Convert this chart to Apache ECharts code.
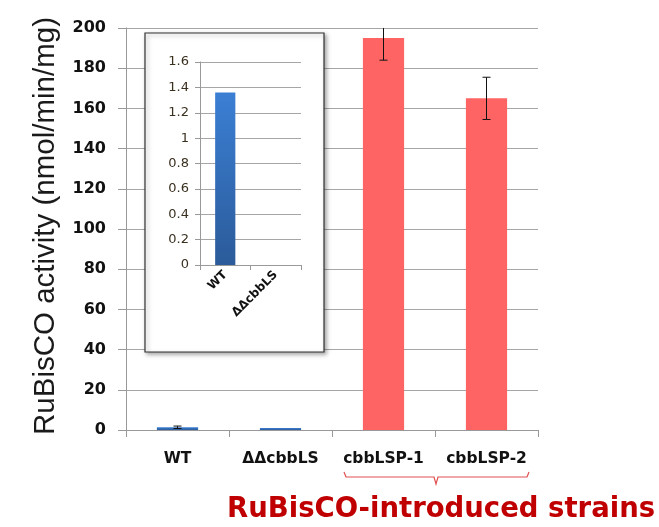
<!DOCTYPE html>
<html><head><meta charset="utf-8">
<script src="https://cdn.jsdelivr.net/npm/echarts@6/dist/echarts.min.js"></script>
<style>html,body{margin:0;padding:0;background:#fff}#c{width:659px;height:527px}</style>
</head><body><div id="c"></div>
<script>
const categories = ['WT', 'ΔΔcbbLS', 'cbbLSP-1', 'cbbLSP-2'];
const activity = [1.36, 0.02, 195, 165];
const errors = [0.6, 0, 11, 10.5];
const yTicks = [0, 20, 40, 60, 80, 100, 120, 140, 160, 180, 200];
const insetCategories = ['WT', 'ΔΔcbbLS'];
const insetActivity = [1.36, 0];
const insetTicks = [0, 0.2, 0.4, 0.6, 0.8, 1, 1.2, 1.4, 1.6];

const chart = echarts.init(document.getElementById('c'), null, {renderer: 'canvas'});
const blue = new echarts.graphic.LinearGradient(0, 0, 0, 1, [
  {offset: 0, color: '#3b7fd4'}, {offset: 1, color: '#2b5b9a'}]);
const red = '#ff6464';
const font = '"DejaVu Sans", sans-serif';

const option = {
  animation: false,
  backgroundColor: '#fff',
  grid: [
    {left: 126, top: 28, width: 412, height: 402},
    {left: 200, top: 62, width: 101, height: 203, z: 10}
  ],
  xAxis: [
    {type: 'category', data: categories, gridIndex: 0,
     axisLine: {lineStyle: {color: '#999', width: 1}},
     axisTick: {show: true, length: 7, lineStyle: {color: '#999'}},
     axisLabel: {color: '#111', fontWeight: 'bold', fontSize: 15.5, fontFamily: font, margin: 21, interval: 0, hideOverlap: false}},
    {type: 'category', data: insetCategories, gridIndex: 1, z: 10,
     axisLine: {lineStyle: {color: '#999'}},
     axisTick: {show: true, length: 5, lineStyle: {color: '#999'}},
     axisLabel: {color: '#111', fontWeight: 'bold', fontSize: 12, fontFamily: font, rotate: 45, margin: 8, interval: 0, hideOverlap: false}}
  ],
  yAxis: [
    {type: 'value', gridIndex: 0, min: 0, max: 200, interval: 20,
     axisLine: {show: true, lineStyle: {color: '#999'}},
     axisTick: {show: true, length: 8, lineStyle: {color: '#999'}},
     splitLine: {lineStyle: {color: '#a6a6a6'}},
     axisLabel: {color: '#111', fontWeight: 'bold', fontSize: 16, fontFamily: font, margin: 20,
       formatter: v => yTicks.includes(v) ? String(v) : ''}},
    {type: 'value', gridIndex: 1, min: 0, max: 1.6, interval: 0.2, z: 10,
     axisLine: {show: true, lineStyle: {color: '#999'}},
     axisTick: {show: true, length: 5, lineStyle: {color: '#999'}},
     splitLine: {lineStyle: {color: '#a6a6a6'}},
     axisLabel: {color: '#3a3020', fontSize: 13, fontFamily: font, margin: 11,
       formatter: v => { const t = insetTicks.find(x => Math.abs(x - v) < 1e-9); return t === undefined ? '' : String(t); }}}
  ],
  series: [
    {type: 'bar', xAxisIndex: 0, yAxisIndex: 0, barWidth: '40%', barMinHeight: 2,
     data: activity.map((v, i) => ({value: v, itemStyle: {color: i < 2 ? blue : red}}))},
    {type: 'custom', xAxisIndex: 0, yAxisIndex: 0, z: 3,
     data: activity.map((v, i) => [i, v, errors[i]]),
     renderItem: (params, api) => {
       const i = api.value(0), v = api.value(1), e = api.value(2);
       if (!e) return null;
       const top = api.coord([i, Math.min(v + e, 200)]);
       const bot = api.coord([i, v - e]);
       const hw = 4;
       const children = [{type: 'line', shape: {x1: top[0], y1: top[1], x2: bot[0], y2: bot[1]}, style: {stroke: '#111', lineWidth: 1}},
         {type: 'line', shape: {x1: bot[0] - hw, y1: bot[1], x2: bot[0] + hw, y2: bot[1]}, style: {stroke: '#111', lineWidth: 1}}];
       if (v + e <= 200) children.push({type: 'line', shape: {x1: top[0] - hw, y1: top[1], x2: top[0] + hw, y2: top[1]}, style: {stroke: '#111', lineWidth: 1}});
       return {type: 'group', children};
     }},
    {type: 'bar', xAxisIndex: 1, yAxisIndex: 1, barWidth: '40%', z: 12,
     data: insetActivity.map(v => ({value: v, itemStyle: {color: blue}}))}
  ],
  graphic: [
    {type: 'rect', z: 5, shape: {x: 145, y: 33, width: 179, height: 319},
     style: {fill: '#fff', stroke: '#333', lineWidth: 1.2, shadowBlur: 4, shadowOffsetX: 2, shadowOffsetY: 2, shadowColor: 'rgba(0,0,0,0.35)'}},
    {type: 'polyline', z: 5, shape: {points: [[344, 472], [346, 477], [434, 477], [436, 484], [438, 477], [527, 477], [529, 472]]},
     style: {stroke: '#e05050', lineWidth: 1.2, fill: null}},
    {type: 'text', z: 5, x: 46, y: 226, rotation: Math.PI / 2,
     style: {text: 'RuBisCO activity (nmol/min/mg)', fill: '#1a1a1a', font: '29.5px "Liberation Sans", Arial, sans-serif', align: 'center', verticalAlign: 'middle'}},
    {type: 'text', z: 5, left: 227, top: 496,
     style: {text: 'RuBisCO-introduced strains', fill: '#c00000', font: 'bold 27.5px ' + font}}
  ]
};
chart.setOption(option);
</script></body></html>
